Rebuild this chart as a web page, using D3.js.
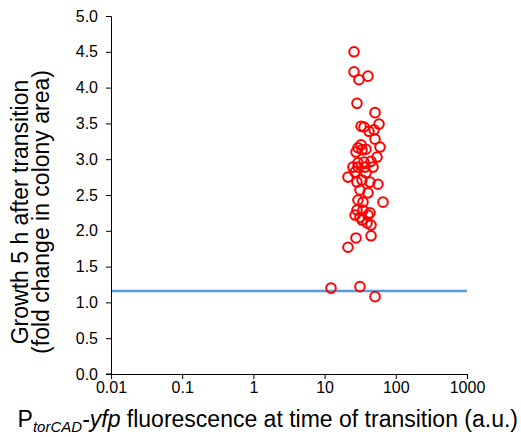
<!DOCTYPE html>
<html>
<head>
<meta charset="utf-8">
<script src="https://cdn.jsdelivr.net/npm/d3@7"></script>
<style>
  body { margin: 0; background: #fff; }
  text { font-family: "Liberation Sans", Arial, sans-serif; fill: #000; }
</style>
</head>
<body>
<script>
// fluorescence (a.u.) and growth (fold change) per colony
var fluor = [25.9, 25.9, 40.7, 30.4, 28.5, 51.1, 58.1, 32.5, 35.8, 42.0,
             49.5, 51.1, 60.0, 29.4, 33.5, 27.6, 38.1, 54.5, 29.4, 35.8,
             44.9, 25.0, 29.4, 36.9, 47.9, 21.3, 28.5, 33.5, 43.4, 56.2,
             31.4, 40.7, 29.4, 34.6, 66.1, 28.5, 34.6, 43.4, 26.8, 31.4,
             40.7, 33.5, 39.4, 44.9, 44.9, 27.6, 21.3, 12.3, 31.4, 51.1,
             32.5, 38.1, 26.8];
var growth = [4.50, 4.22, 4.16, 4.11, 3.78, 3.65, 3.49, 3.46, 3.45, 3.39,
              3.41, 3.28, 3.17, 3.16, 3.13, 3.10, 3.14, 3.03, 2.95, 2.96,
              2.97, 2.89, 2.89, 2.89, 2.89, 2.75, 2.68, 2.71, 2.68, 2.65,
              2.57, 2.53, 2.43, 2.40, 2.40, 2.29, 2.29, 2.25, 2.22, 2.19,
              2.22, 2.15, 2.11, 2.08, 1.93, 1.90, 1.77, 1.20, 1.22, 1.08,
              3.20, 2.81, 2.82];
var threshold = 1.16;
var xTicks = [0.01, 0.1, 1, 10, 100, 1000];
var xTickLabels = ["0.01", "0.1", "1", "10", "100", "1000"];
var yTicks = [0, 0.5, 1, 1.5, 2, 2.5, 3, 3.5, 4, 4.5, 5];

var width = 521, height = 437;

var svg = d3.select("body").append("svg")
    .attr("width", width)
    .attr("height", height);

var x = d3.scaleLog().domain([0.01, 1000]).range([111, 467]);
var y = d3.scaleLinear().domain([0, 5]).range([374, 16]);

// threshold line
svg.append("line")
    .attr("x1", x(0.01)).attr("x2", x(1000))
    .attr("y1", y(threshold)).attr("y2", y(threshold))
    .attr("stroke", "#5b9bd5")
    .attr("stroke-width", 2.5);

// axes
var xAxis = svg.append("g")
    .attr("transform", "translate(0," + y(0) + ")")
    .call(d3.axisBottom(x).tickValues(xTicks)
      .tickFormat(function(d, i) { return xTickLabels[i]; })
      .tickSizeOuter(0).tickSize(5).tickPadding(3));

var yAxis = svg.append("g")
    .attr("transform", "translate(" + x(0.01) + ",0)")
    .call(d3.axisLeft(y).tickValues(yTicks)
      .tickFormat(d3.format(".1f"))
      .tickSizeOuter(0).tickSize(5).tickPadding(8));

svg.selectAll(".domain").attr("stroke", "#000");
svg.selectAll(".tick line").attr("stroke", "#000");
svg.selectAll(".tick text")
    .style("font-family", "'Liberation Sans', Arial, sans-serif")
    .style("font-size", "16px")
    .attr("fill", "#000");
// close y axis cross at bottom
yAxis.append("line")
    .attr("x1", -5).attr("x2", 0)
    .attr("y1", y(0)).attr("y2", y(0))
    .attr("stroke", "#000");

// points
svg.append("g").selectAll("circle")
    .data(fluor)
  .enter().append("circle")
    .attr("cx", function(d) { return x(d); })
    .attr("cy", function(d, i) { return y(growth[i]); })
    .attr("r", 4.8)
    .attr("fill", "none")
    .attr("stroke", "#ff0000")
    .attr("stroke-width", 2);

// x title
var xt = svg.append("text")
    .attr("x", 518).attr("y", 427)
    .attr("text-anchor", "end")
    .style("font-size", "23px");
xt.append("tspan").text("P");
xt.append("tspan").attr("dy", 5).style("font-size", "15px")
    .style("font-style", "italic").text("torCAD");
xt.append("tspan").attr("dy", -5).style("font-style", "italic").text("-yfp");
xt.append("tspan").text(" fluorescence at time of transition (a.u.)");

// y title
var yt = svg.append("text")
    .attr("transform", "translate(28,212) rotate(-90)")
    .attr("text-anchor", "middle")
    .style("font-size", "23px");
yt.append("tspan").attr("x", 0).attr("y", 0).text("Growth 5 h after transition");
yt.append("tspan").attr("x", 0).attr("y", 21).text("(fold change in colony area)");
</script>
</body>
</html>
